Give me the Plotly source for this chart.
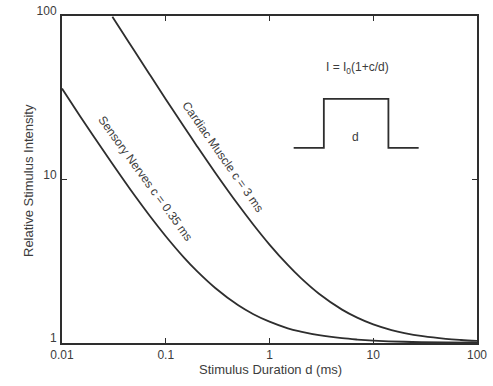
import plotly.graph_objects as go

# Strength-duration curves
sensory_d = [0.01, 0.015, 0.02, 0.03, 0.05, 0.07, 0.1, 0.15, 0.2, 0.3, 0.5, 0.7, 1, 1.5, 2, 3, 5, 7, 10, 20, 50, 100]
sensory_i = [36, 24.3, 18.5, 12.7, 8.0, 6.0, 4.5, 3.33, 2.75, 2.17, 1.7, 1.5, 1.35, 1.23, 1.175, 1.117, 1.07, 1.05, 1.035, 1.0175, 1.007, 1.0035]

cardiac_d = [0.0306, 0.04, 0.05, 0.07, 0.1, 0.15, 0.2, 0.3, 0.5, 0.7, 1, 1.5, 2, 3, 5, 7, 10, 15, 20, 30, 50, 70, 100]
cardiac_i = [99, 76, 61, 43.9, 31, 21, 16, 11, 7, 5.29, 4, 3, 2.5, 2, 1.6, 1.43, 1.3, 1.2, 1.15, 1.1, 1.06, 1.043, 1.03]

# Inset pulse sketch (data coordinates)
pulse_x = [1.71, 3.34, 3.34, 14.0, 14.0, 27.4]
pulse_y = [15.6, 15.6, 31.1, 31.1, 15.6, 15.6]

x_ticks = [0.01, 0.1, 1, 10, 100]
x_tick_text = ["0.01", "0.1", "1", "10", "100"]
y_ticks = [1, 10, 100]
y_tick_text = ["1", "10", "100"]

line_col = "#2e2e2e"
text_col = "#3c3c3c"
font = "Liberation Sans, Arial, sans-serif"

fig = go.Figure()
fig.add_trace(go.Scatter(x=sensory_d, y=sensory_i, mode="lines",
                         line=dict(color=line_col, width=1.8, shape="spline"), hoverinfo="skip"))
fig.add_trace(go.Scatter(x=cardiac_d, y=cardiac_i, mode="lines",
                         line=dict(color=line_col, width=1.8, shape="spline"), hoverinfo="skip"))
fig.add_trace(go.Scatter(x=pulse_x, y=pulse_y, mode="lines",
                         line=dict(color=line_col, width=1.8), hoverinfo="skip"))

axis_common = dict(
    type="log", showgrid=False, zeroline=False, showline=True, linecolor=line_col, linewidth=2,
    mirror="ticks", ticks="inside", ticklen=5, tickcolor=line_col, tickwidth=1.2,
    tickfont=dict(size=12, color=text_col, family=font), automargin=False,
    ticklabeloverflow="allow",
)

fig.update_xaxes(**axis_common, range=[-2, 2], tickvals=x_ticks, ticktext=x_tick_text)
fig.update_yaxes(**axis_common, range=[0, 2], tickvals=y_ticks, ticktext=y_tick_text,
                 ticklabelshift=-5, ticklabelstandoff=1)


def px_ann(px, py, text, angle=0, size=12):
    fig.add_annotation(x=(px - 62) / 415, y=(343 - py) / 327, xref="paper", yref="paper",
                       xanchor="center", yanchor="middle", text=text, showarrow=False,
                       textangle=angle, font=dict(size=size, color=text_col, family=font))


px_ann(145, 178, "Sensory Nerves c = 0.35 ms", 54)
px_ann(223, 157, "Cardiac Muscle c = 3 ms", 55)
px_ann(357, 68, "I = I<sub>0</sub>(1+c/d)", 0)
px_ann(355, 137, "d", 0)
px_ann(270, 369, "Stimulus Duration d (ms)", 0, 13)
px_ann(28, 181, "Relative Stimulus Intensity", -90, 13)

fig.update_layout(
    width=493, height=386, showlegend=False,
    margin=dict(l=62, r=16, t=16, b=43),
    paper_bgcolor="white", plot_bgcolor="white",
)

# remove the default page margin so the figure fills the window exactly
fig.write_html("out.html", config={"displayModeBar": False},
               post_script="document.body.style.margin='0';")
